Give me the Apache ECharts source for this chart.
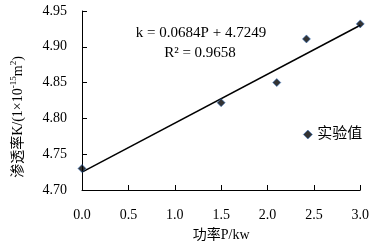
<!DOCTYPE html>
<html>
<head>
<meta charset="utf-8">
<script src="https://cdn.jsdelivr.net/npm/echarts@6/dist/echarts.min.js"></script>
<style>
  html, body { margin: 0; padding: 0; background: #fff; }
  #chart { width: 372px; height: 247px; }
</style>
</head>
<body>
<div id="chart"></div>
<script>
// measured points
const powerP = [0, 1.5, 2.1, 2.42, 3.0];
const permK = [4.73, 4.822, 4.85, 4.911, 4.932];
// linear fit k = 0.0684P + 4.7249, end points
const fitP = [0, 3.0];
const fitK = [4.7249, 4.9301];
const xTicks = ['0.0', '0.5', '1.0', '1.5', '2.0', '2.5', '3.0'];

const serif = 'Liberation Serif, Noto Sans CJK SC';

let myCharts = echarts.init(document.getElementById('chart'));
let option = {
  animation: false,
  textStyle: { fontFamily: serif, color: '#000' },
  grid: { left: 82, right: 11, top: 11, bottom: 55 },
  legend: {
    data: ['实验值'],
    left: 298,
    top: 122,
    icon: 'diamond',
    itemWidth: 9,
    itemHeight: 9,
    itemGap: 4,
    itemStyle: { color: '#000', borderColor: '#2f6fc4', borderWidth: 0.7 },
    textStyle: { fontFamily: serif, fontSize: 15, color: '#000' }
  },
  xAxis: {
    type: 'value',
    min: 0,
    max: 3,
    interval: 0.5,
    name: '功率P/kw',
    nameLocation: 'middle',
    nameGap: 38,
    nameTextStyle: { fontFamily: serif, fontSize: 14, color: '#000' },
    axisLine: { lineStyle: { color: '#000', width: 1 } },
    axisTick: { inside: true, length: 5, lineStyle: { color: '#000' } },
    axisLabel: {
      margin: 18,
      fontSize: 14,
      color: '#000',
      formatter: v => xTicks[Math.round(v / 0.5)]
    },
    splitLine: { show: false }
  },
  yAxis: {
    type: 'value',
    min: 4.70,
    max: 4.95,
    interval: 0.05,
    axisLine: { show: true, lineStyle: { color: '#000', width: 1 } },
    axisTick: { show: true, inside: true, length: 5, lineStyle: { color: '#000' } },
    axisLabel: {
      margin: 15,
      fontSize: 14,
      color: '#000',
      formatter: v => v.toFixed(2)
    },
    splitLine: { show: false }
  },
  graphic: [
    {
      type: 'text',
      x: 17,
      y: 117,
      rotation: Math.PI / 2,
      style: {
        text: '{a|渗透率K/(1×10}{s|-15}{a|m}{s|2}{a|)}',
        align: 'center',
        verticalAlign: 'middle',
        fill: '#000',
        rich: {
          a: { fontFamily: serif, fontSize: 14, lineHeight: 16, verticalAlign: 'bottom' },
          s: { fontFamily: serif, fontSize: 9, lineHeight: 16, verticalAlign: 'top' }
        }
      }
    },
    {
      type: 'text',
      x: 201,
      y: 33,
      style: {
        text: 'k = 0.0684P + 4.7249',
        fontFamily: serif,
        fontSize: 15,
        fill: '#000',
        align: 'center',
        verticalAlign: 'middle'
      }
    },
    {
      type: 'text',
      x: 200,
      y: 53,
      style: {
        text: 'R² = 0.9658',
        fontFamily: serif,
        fontSize: 15,
        fill: '#000',
        align: 'center',
        verticalAlign: 'middle'
      }
    }
  ],
  series: [
    {
      name: '线性拟合',
      type: 'line',
      data: fitP.map((p, i) => [p, fitK[i]]),
      showSymbol: false,
      silent: true,
      lineStyle: { color: '#000', width: 1.5 },
      z: 1
    },
    {
      name: '实验值',
      type: 'scatter',
      data: powerP.map((p, i) => [p, permK[i]]),
      symbol: 'diamond',
      symbolSize: 8,
      itemStyle: { color: '#000', borderColor: '#2f6fc4', borderWidth: 0.7 },
      z: 3
    }
  ]
};
myCharts.setOption(option);
window.addEventListener('resize', function () {
  myCharts.resize();
});
</script>
</body>
</html>
